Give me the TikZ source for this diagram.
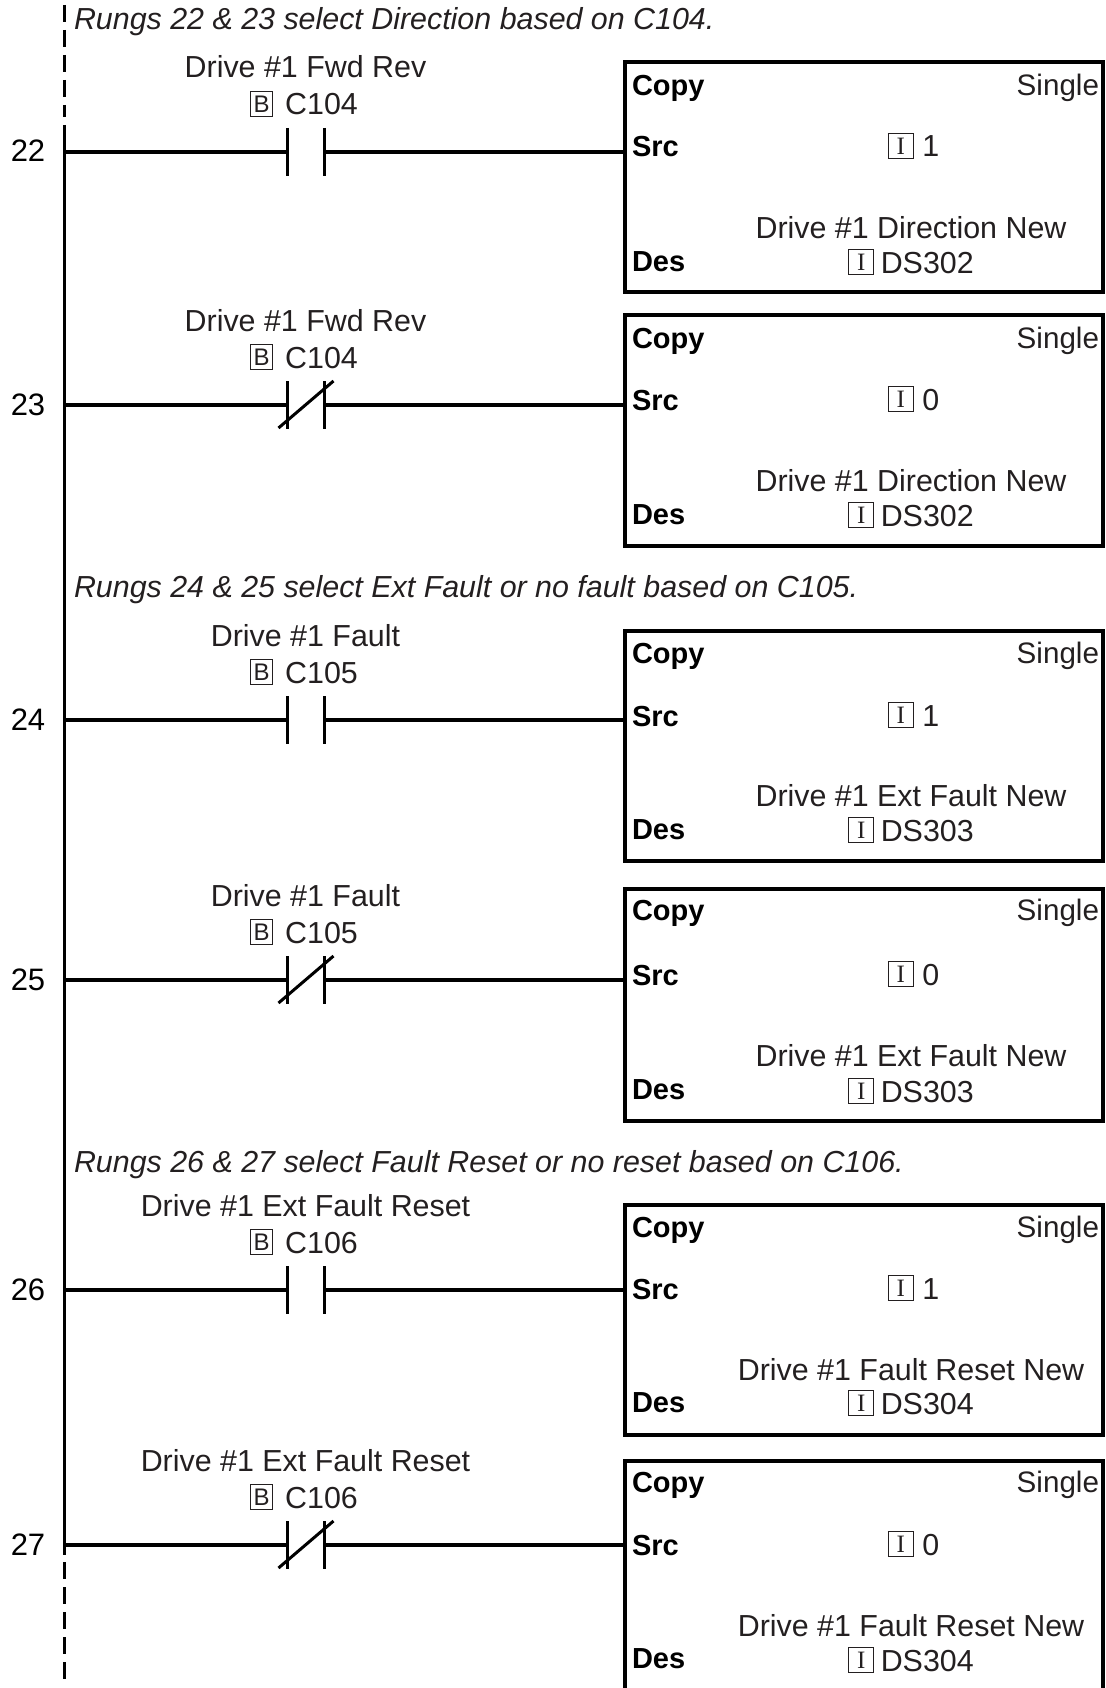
\documentclass[tikz,border=0pt]{standalone}
\usepackage{fontspec}
\setmainfont{Liberation Sans}
\newfontfamily\tagserif{Liberation Serif}
\usetikzlibrary{calc}
\definecolor{inkgray}{HTML}{231F20}
\newcommand{\drv}{Drive \#1}
\newcommand{\Btag}{{\fboxsep=0pt\fboxrule=1pt\raisebox{2.5pt}{\fbox{\makebox[21pt]{\rule[-3.5pt]{0pt}{24pt}\fontsize{24}{24}\selectfont B}}}\hspace{12pt}}}
\newcommand{\Itag}{{\fboxsep=0pt\fboxrule=1pt\raisebox{2.5pt}{\fbox{\makebox[24pt]{\rule[-3.5pt]{0pt}{24pt}\tagserif\fontsize{25}{25}\selectfont I}}}}}
\begin{document}
\begin{tikzpicture}[
  x=1pt,y=-1pt,
  rung/.style={line width=3.5pt,black},
  railcut/.style={line width=3.5pt,black,dash pattern=on 17pt off 8pt},
  contact/.style={rectangle,minimum width=37pt,minimum height=48pt,inner sep=0pt,outer sep=0pt},
  copybox/.style={rectangle,draw,line width=3.5pt,minimum width=478pt,inner sep=0pt,outer sep=0pt,anchor=north west},
  txt/.style={inner sep=0pt,outer sep=0pt,text=inkgray,font=\fontsize{30.4}{30.4}\selectfont},
  num/.style={inner sep=0pt,outer sep=0pt,text=black,font=\fontsize{31}{31}\selectfont},
  key/.style={inner sep=0pt,outer sep=0pt,text=black,anchor=base west,font=\fontsize{29}{29}\selectfont\bfseries},
  note/.style={inner sep=0pt,outer sep=0pt,text=inkgray,anchor=base west,font=\fontsize{30.4}{30.4}\selectfont\itshape}
]
\useasboundingbox (0,0) rectangle (1105,1688);
\clip (0,0) rectangle (1105,1688);

% power rail
\coordinate (dashtop) at (64.6,5);
\coordinate (railtop) at (64.6,125);
\coordinate (railend) at (64.6,1555);
\coordinate (dashend) at (64.6,1680);
\draw[railcut] (dashtop) -- ($(railtop)+(0,-8)$);
\draw[rung] (railtop) -- (railend);
\draw[railcut] ($(railend)+(0,7)$) -- (dashend);

% one rung: number / rung y / box top / box height / copy y / src y / name y / des y / reg y / contact label / tag / val / dest label / reg
\foreach \num/\yy/\boxtop/\boxh/\cpy/\srcy/\namey/\desy/\regy/\cname/\creg/\val/\dname/\dreg in {
  22/152/62/230/96/157/239/272/273/Fwd Rev/C104/1/Direction New/DS302,
  23/405/315/231/348/410/491/524/526/Fwd Rev/C104/0/Direction New/DS302,
  24/720/631/230/663/726/806/839/841/Fault/C105/1/Ext Fault New/DS303,
  25/980/889/232/920/985/1066/1099/1102/Fault/C105/0/Ext Fault New/DS303,
  26/1290/1205/230/1237/1299/1380/1412/1414/Ext Fault Reset/C106/1/Fault Reset New/DS304,
  27/1545/1461/232/1492/1555/1636/1668/1671/Ext Fault Reset/C106/0/Fault Reset New/DS304}{
  \node[num,anchor=base] (lbl\num) at (28,\yy+10) {\num};
  \coordinate (rail\num) at (64.6,\yy);
  \node[contact] (k\num) at (306,\yy) {};
  \node[txt,anchor=base] (cn\num) at (305.5,\yy-74) {\drv\ \cname};
  \node[txt,anchor=base] (cr\num) at (304,\yy-37) {\Btag\creg};
  \node[copybox,minimum height=\boxh pt] (box\num) at (625,\boxtop) {};
  \node[key] (cp\num) at (632,\cpy) {Copy};
  \node[txt,anchor=base east,font=\fontsize{29.6}{29.6}\selectfont] (sg\num) at (1099,\cpy) {Single};
  \node[key] (sr\num) at (632,\srcy) {Src};
  \node[txt,anchor=base] (vl\num) at (913.5,\srcy) {\Itag\ \val};
  \node[txt,anchor=base] (dn\num) at (911,\namey) {\drv\ \dname};
  \node[key] (ds\num) at (632,\desy) {Des};
  \node[txt,anchor=base] (dr\num) at (911,\regy) {\Itag\hspace{6.5pt}\dreg};
  \draw[rung] (rail\num) -- (k\num.west);
  \draw[rung] (k\num.east) -- (box\num.west |- k\num.east);
  \draw[line width=3pt] (k\num.north west) -- (k\num.south west);
  \draw[line width=3pt] (k\num.north east) -- (k\num.south east);
}

% closed contacts get the slash
\foreach \num in {23,25,27}{
  \draw[line width=3pt] ($(k\num.south west)+(-9,-1)$) -- ($(k\num.north east)+(9,0)$);
}

\node[note] (n22) at (74,30) {Rungs 22 \& 23 select Direction based on C104.};
\node[note] (n24) at (74,597) {Rungs 24 \& 25 select Ext Fault or no fault based on C105.};
\node[note] (n26) at (74,1172) {Rungs 26 \& 27 select Fault Reset or no reset based on C106.};
\end{tikzpicture}
\end{document}
